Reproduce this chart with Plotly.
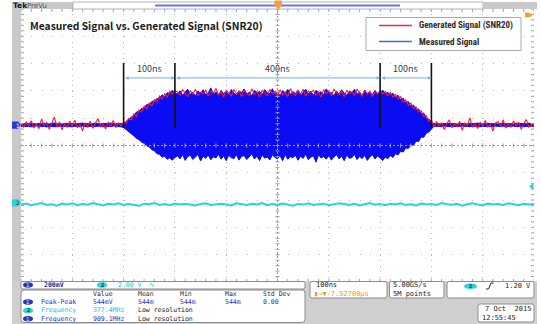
import numpy as np
import plotly.graph_objects as go

# ---------------- acquisition / screen setup ----------------
TIME_DIV_NS = 100          # horizontal scale (ns/div)
CH1_DIV_MV = 200           # channel 1 vertical scale (mV/div)
CH2_DIV_V = 2.0            # channel 2 vertical scale (V/div)
H_DIVS, V_DIVS = 10, 10
CH1_POS_DIV = 0.75         # channel 1 ground, divisions above centre
CH2_POS_DIV = -2.1         # channel 2 ground, divisions below centre
TRIG_LEVEL_V = 1.20
SAMPLE_NS = 5              # spacing of the channel 1 samples below
CH2_SAMPLE_NS = 10         # spacing of the channel 2 samples below
RECORD_START_NS = -500

# ---------------- channel 1 : measured signal envelope (mV) ----------------
measured_upper_mv = (
    # idle, -500 .. -305 ns
    [9, 12, 8, 11, 14, 10, 7, 12, 9, 13, 10, 8, 12, 15, 9, 11, 7, 10, 13, 9,
     12, 8, 11, 10, 14, 9, 12, 7, 11, 13, 10, 8, 12, 9, 11, 14, 10, 8, 12, 10]
    # rising edge, -300 .. -200 ns
    + [8, 28, 41, 60, 72, 95, 101, 121, 126, 150, 149, 172, 176, 193, 198, 222,
       208, 236, 231, 255, 234]
    # plateau, -195 .. 195 ns
    + [228, 251, 219, 244, 262, 225, 238, 214, 249, 232,
       258, 221, 236, 272, 227, 242, 216, 253, 231, 245,
       222, 260, 234, 218, 248, 239, 264, 226, 241, 212,
       255, 233, 247, 220, 259, 237, 229, 266, 224, 243,
       215, 252, 235, 261, 223, 246, 230, 257, 218, 240,
       263, 228, 249, 217, 254, 236, 244, 221, 265, 232,
       239, 213, 250, 227, 258, 234, 219, 247, 238, 262,
       225, 243, 216, 256, 231, 245, 222, 253, 229]
    # falling edge, 200 .. 300 ns
    + [237, 256, 229, 240, 221, 233, 204, 218, 185, 197, 161, 172, 138, 147,
       112, 118, 82, 88, 47, 44, 12]
    # idle, 305 .. 500 ns
    + [11, 9, 13, 8, 12, 10, 14, 9, 11, 7, 12, 10, 13, 8, 11, 9, 12, 14, 10, 8,
       11, 13, 9, 12, 10, 7, 11, 14, 9, 12, 10, 8, 13, 11, 9, 12, 10, 14, 8, 11]
)

measured_lower_mv = (
    [-10, -8, -12, -9, -13, -11, -7, -10, -12, -9, -14, -10, -8, -11, -13, -9,
     -12, -10, -7, -11, -13, -9, -10, -12, -8, -11, -14, -9, -10, -12, -8, -11,
     -13, -10, -9, -12, -7, -11, -10, -13]
    + [-18, -35, -47, -66, -80, -98, -107, -125, -134, -152, -160, -181, -189,
       -210, -214, -236, -229, -251, -240, -258, -238]
    + [-226, -248, -218, -259, -231, -221, -252, -237, -216, -263,
       -229, -244, -219, -255, -233, -241, -214, -250, -227, -261,
       -222, -239, -246, -217, -257, -230, -224, -253, -236, -212,
       -249, -228, -260, -220, -243, -234, -256, -218, -238, -247,
       -225, -262, -216, -251, -232, -240, -221, -258, -229, -245,
       -213, -254, -236, -226, -272, -219, -242, -231, -250, -223,
       -257, -235, -217, -248, -228, -261, -220, -244, -239, -215,
       -253, -230, -246, -222, -259, -233, -218, -249, -227]
    + [-241, -260, -236, -247, -224, -238, -210, -219, -191, -198, -168, -172,
       -142, -150, -118, -121, -88, -90, -60, -52, -30]
    + [-9, -12, -10, -13, -8, -11, -10, -14, -9, -12, -11, -8, -13, -10, -12,
       -9, -7, -11, -13, -10, -12, -9, -11, -14, -8, -10, -12, -9, -13, -11,
       -10, -8, -12, -11, -9, -13, -10, -12, -8, -11]
)

# ---------------- channel 1 : generated signal, SNR 20 dB (mV) ----------------
generated_mv = (
    [12, -18, 25, -9, 31, -22, 8, -27, 44, -6, 19, -31, 14, 58, -12, 22, -35,
     10, -15, 27, -8, 36, -20, 5, -42, 17, -11, 29, -24, 13, 48, -16, 7, -29,
     21, -10, 34, -19, 15, -5]
    + [22, 14, 48, 37, 81, 62, 110, 96, 138, 118, 162, 141, 185, 168, 212, 190,
       229, 204, 247, 226, 250]
    + [244, 218, 259, 231, 207, 252, 226, 263, 213, 240,
       229, 256, 211, 247, 235, 268, 220, 243, 205, 254,
       237, 214, 261, 228, 249, 209, 257, 233, 218, 265,
       225, 246, 206, 253, 239, 216, 260, 230, 248, 212,
       258, 222, 241, 208, 266, 234, 217, 251, 227, 262,
       210, 245, 236, 255, 219, 242, 204, 259, 232, 250,
       215, 264, 238, 223, 248, 207, 256, 229, 244, 217,
       261, 235, 212, 253, 226, 247, 209, 241, 230]
    + [252, 228, 246, 214, 238, 205, 226, 190, 208, 168, 184, 146, 160, 122,
       134, 95, 104, 62, 70, 28, 35]
    + [-14, 26, -7, 18, -33, 11, 39, -21, 6, -12, 28, -38, 15, -4, 52, -17, 9,
       -26, 20, -9, 33, -14, 4, -45, 16, 24, -11, 37, -23, 8, -16, 30, -6, 21,
       -31, 12, 41, -18, 10, -3]
)

# ---------------- channel 2 : trigger source (V) ----------------
ch2_v = [
    -0.12, -0.05, -0.18, -0.08, -0.02, -0.15, -0.10, -0.21, -0.06, -0.13,
    -0.03, -0.17, -0.09, -0.14, -0.01, -0.11, -0.19, -0.07, -0.12, -0.04,
    -0.16, -0.08, -0.13, -0.22, -0.06, -0.10, -0.02, -0.15, -0.09, -0.18,
    -0.05, -0.12, -0.07, -0.14, -0.20, -0.08, -0.03, -0.16, -0.11, -0.06,
    -0.13, -0.19, -0.04, -0.10, -0.15, -0.07, -0.12, -0.01, -0.17, -0.09,
    -0.14, -0.05, -0.11, -0.21, -0.08, -0.13, -0.03, -0.16, -0.10, -0.06,
    -0.18, -0.12, -0.04, -0.09, -0.15, -0.07, -0.20, -0.11, -0.02, -0.14,
    -0.08, -0.17, -0.06, -0.12, -0.03, -0.15, -0.10, -0.19, -0.05, -0.13,
    -0.09, -0.16, -0.02, -0.11, -0.14, -0.07, -0.21, -0.10, -0.04, -0.12,
    -0.18, -0.06, -0.13, -0.08, -0.15, -0.03, -0.11, -0.17, -0.07, -0.12,
    -0.09,
]

# burst boundaries (ns)
marker_times_ns = [-300, -200, 200, 300]

# legend entries
series_names = ["Generated Signal (SNR20)", "Measured Signal"]
series_key_colors = ["#e8313a", "#2e78cc"]

# measurement readout
ch2_frequency = "377.4MHz"
ch1_frequency = "909.1MHz"
timebase_label = "100ns"
trigger_delay = "-7.52700µs"
sample_rate = "5.00GS/s"
record_length = "5M points"
date_label = "7 Oct  2015"
time_label = "12:55:45"

# ---------------- page geometry ----------------
W, H = 541, 324
GX0, GX1, GY0, GY1 = 21, 534, 9, 282     # graticule in page pixels

BLUE = "#0c0cf2"
RED = "#ff1a1a"
CYAN = "#27d3dc"
GRID = "#b9b9b9"
TICK = "#a4a4a4"
UI_FONT = "DejaVu Sans Mono"
LABEL_FONT = "Noto Sans CJK KR"
LEGEND_FONT = "Liberation Sans Narrow, Arial Narrow, Roboto Condensed, Noto Sans CJK KR"

t_ns = RECORD_START_NS + SAMPLE_NS * np.arange(len(measured_upper_mv))
t2_ns = RECORD_START_NS + CH2_SAMPLE_NS * np.arange(len(ch2_v))

x_half = H_DIVS / 2 * TIME_DIV_NS
ch1_range = [(-V_DIVS / 2 - CH1_POS_DIV) * CH1_DIV_MV, (V_DIVS / 2 - CH1_POS_DIV) * CH1_DIV_MV]
ch2_range = [(-V_DIVS / 2 - CH2_POS_DIV) * CH2_DIV_V, (V_DIVS / 2 - CH2_POS_DIV) * CH2_DIV_V]
centre_mv = -CH1_POS_DIV * CH1_DIV_MV
mv_per_px = (ch1_range[1] - ch1_range[0]) / (GY1 - GY0)
ns_per_px = 2 * x_half / (GX1 - GX0)
v_per_px = (ch2_range[1] - ch2_range[0]) / (GY1 - GY0)


def PX(x):
    return (x - GX0) / (GX1 - GX0)


def PY(y):
    return (GY1 - y) / (GY1 - GY0)


fig = go.Figure()

# measured signal: dense carrier drawn as its filled envelope
fig.add_trace(go.Scatter(
    x=np.concatenate([t_ns, t_ns[::-1]]),
    y=np.concatenate([measured_upper_mv, measured_lower_mv[::-1]]),
    fill="toself", fillcolor=BLUE, mode="lines", name=series_names[1],
    line=dict(color=BLUE, width=1), showlegend=False, hoverinfo="skip"))

# generated signal
fig.add_trace(go.Scatter(
    x=t_ns, y=generated_mv, mode="lines", name=series_names[0],
    line=dict(color=RED, width=1.1), showlegend=False, hoverinfo="skip"))

# burst boundary markers
MARK_TOP_MV, MARK_BOTTOM_MV = 455, -18
mx, my = [], []
for tm in marker_times_ns:
    mx += [tm, tm, None]
    my += [MARK_BOTTOM_MV, MARK_TOP_MV, None]
fig.add_trace(go.Scatter(x=mx, y=my, mode="lines",
                         line=dict(color="#111111", width=1.6),
                         showlegend=False, hoverinfo="skip"))

# channel 2 trace
fig.add_trace(go.Scatter(
    x=t2_ns, y=ch2_v, yaxis="y2", mode="lines",
    line=dict(color=CYAN, width=2), showlegend=False, hoverinfo="skip"))

# channel 2 trigger level indicator at the right edge
fig.add_trace(go.Scatter(
    x=[x_half - 2 * ns_per_px], y=[TRIG_LEVEL_V], yaxis="y2", mode="markers",
    marker=dict(symbol="triangle-left", size=6, color=CYAN),
    cliponaxis=False, showlegend=False, hoverinfo="skip"))

shapes = []
ann = []


def rect(x0, y0, x1, y1, fill, line=None, lw=0):
    shapes.append(dict(type="rect", xref="paper", yref="paper",
                       x0=PX(x0), x1=PX(x1), y0=PY(y1), y1=PY(y0),
                       fillcolor=fill, line=dict(color=line or fill, width=lw)))


def rrect(x0, y0, x1, y1, r, fill="white", line="#8c8c8c"):
    p = (f"M{PX(x0 + r)},{PY(y0)} L{PX(x1 - r)},{PY(y0)} "
         f"Q{PX(x1)},{PY(y0)} {PX(x1)},{PY(y0 + r)} L{PX(x1)},{PY(y1 - r)} "
         f"Q{PX(x1)},{PY(y1)} {PX(x1 - r)},{PY(y1)} L{PX(x0 + r)},{PY(y1)} "
         f"Q{PX(x0)},{PY(y1)} {PX(x0)},{PY(y1 - r)} L{PX(x0)},{PY(y0 + r)} "
         f"Q{PX(x0)},{PY(y0)} {PX(x0 + r)},{PY(y0)} Z")
    shapes.append(dict(type="path", xref="paper", yref="paper", path=p,
                       fillcolor=fill, line=dict(color=line, width=1)))


def label(x, y, text, color="#222222", size=6.5, anchor="left",
          family=UI_FONT, bold=False):
    ann.append(dict(x=PX(x), y=PY(y), xref="paper", yref="paper", text=text,
                    showarrow=False, xanchor=anchor, yanchor="middle",
                    borderpad=0,
                    font=dict(family=family, size=size, color=color,
                              weight="bold" if bold else "normal")))


def pill(x0, y0, x1, y1, fill, digit, dcolor):
    shapes.append(dict(type="circle", xref="paper", yref="paper",
                       x0=PX(x0), x1=PX(x1), y0=PY(y1), y1=PY(y0),
                       fillcolor=fill, line=dict(color=fill, width=0)))
    label((x0 + x1) / 2, (y0 + y1) / 2, digit, dcolor, 5.5, "center", bold=True)


# ---- graticule: centre cross, edges and sub-division ticks ----
tick_mv = 2 * mv_per_px
tick_ns = 2 * ns_per_px
edge_mv = 3 * mv_per_px
edge_ns = 3 * ns_per_px
shapes.append(dict(type="line", xref="x", yref="y", x0=-x_half, x1=x_half,
                   y0=centre_mv, y1=centre_mv,
                   line=dict(color="#9a9a9a", width=1, dash="2px,2px")))
shapes.append(dict(type="line", xref="x", yref="y", x0=0, x1=0,
                   y0=ch1_range[0], y1=ch1_range[1],
                   line=dict(color="#9a9a9a", width=1, dash="2px,2px")))
for xe in (-x_half, x_half):
    shapes.append(dict(type="line", xref="x", yref="y", x0=xe, x1=xe,
                       y0=ch1_range[0], y1=ch1_range[1],
                       line=dict(color=GRID, width=1, dash="1px,4.46px")))
for ye in ch1_range:
    shapes.append(dict(type="line", xref="x", yref="y", x0=-x_half, x1=x_half,
                       y0=ye, y1=ye,
                       line=dict(color=GRID, width=1, dash="1px,9.26px")))
sub_x = np.arange(-x_half, x_half + 1e-6, TIME_DIV_NS / 5)
sub_y = np.arange(ch1_range[0], ch1_range[1] + 1e-6, CH1_DIV_MV / 5)
for xv in sub_x:
    shapes.append(dict(type="line", xref="x", yref="y", x0=xv, x1=xv,
                       y0=centre_mv - tick_mv, y1=centre_mv + tick_mv,
                       line=dict(color=TICK, width=1)))
    shapes.append(dict(type="line", xref="x", yref="y", x0=xv, x1=xv,
                       y0=ch1_range[1], y1=ch1_range[1] - edge_mv,
                       line=dict(color=TICK, width=1)))
    shapes.append(dict(type="line", xref="x", yref="y", x0=xv, x1=xv,
                       y0=ch1_range[0], y1=ch1_range[0] + edge_mv,
                       line=dict(color=TICK, width=1)))
for yv in sub_y:
    shapes.append(dict(type="line", xref="x", yref="y", x0=-tick_ns, x1=tick_ns,
                       y0=yv, y1=yv, line=dict(color=TICK, width=1)))
    shapes.append(dict(type="line", xref="x", yref="y", x0=-x_half,
                       x1=-x_half + edge_ns, y0=yv, y1=yv,
                       line=dict(color=TICK, width=1)))
    shapes.append(dict(type="line", xref="x", yref="y", x0=x_half,
                       x1=x_half - edge_ns, y0=yv, y1=yv,
                       line=dict(color=TICK, width=1)))

# ---- instrument frame ----
rect(12, 2, 21, 282, "#c9c9c9")
rect(12, 2, 73, 9, "#c9c9c9")
rect(73, 2, 483, 9, "white", "#b4b4b4", 1)
shapes.append(dict(type="line", xref="paper", yref="paper", x0=PX(155), x1=PX(400),
                   y0=PY(5.5), y1=PY(5.5), line=dict(color="#7272e6", width=2)))
rect(483, 2, 537, 9, "#c9c9c9")
rect(12, 281, 537, 324, "#cfcfcf")
# trigger position flag
shapes.append(dict(type="path", xref="paper", yref="paper",
                   path=f"M{PX(274.5)},{PY(0.5)} L{PX(282)},{PY(0.5)} L{PX(282)},{PY(5)} "
                        f"L{PX(279)},{PY(9)} L{PX(277.5)},{PY(9)} L{PX(274.5)},{PY(5)} Z",
                   fillcolor="#f2a03a", line=dict(color="#f2a03a", width=0)))
# off-screen indicator, top right
shapes.append(dict(type="path", xref="paper", yref="paper",
                   path=f"M{PX(525)},{PY(12.5)} L{PX(529)},{PY(12.5)} L{PX(533)},{PY(15)} "
                        f"L{PX(529)},{PY(17.5)} L{PX(525)},{PY(17.5)} Z",
                   fillcolor="#f2a03a", line=dict(color="#f2a03a", width=0)))

# channel ground markers on the left edge
g1 = 3.6 * mv_per_px
shapes.append(dict(type="path", xref="paper", yref="y",
                   path=f"M{PX(12)},{g1} L{PX(18)},{g1} L{PX(21)},0 "
                        f"L{PX(18)},{-g1} L{PX(12)},{-g1} Z",
                   fillcolor="#2b3bd6", line=dict(color="#2b3bd6", width=0)))
ann.append(dict(x=PX(15), y=0, xref="paper", yref="y", text="1", showarrow=False,
                font=dict(family="DejaVu Sans", size=6, color="white"), borderpad=0))
g2 = 3.6 * v_per_px
shapes.append(dict(type="path", xref="paper", yref="y2",
                   path=f"M{PX(12)},{g2} L{PX(18)},{g2} L{PX(21)},0 "
                        f"L{PX(18)},{-g2} L{PX(12)},{-g2} Z",
                   fillcolor=CYAN, line=dict(color=CYAN, width=0)))
ann.append(dict(x=PX(15), y=0, xref="paper", yref="y2", text="2", showarrow=False,
                font=dict(family="DejaVu Sans", size=6, color="#1b4a55"), borderpad=0))

# ---- title and header text ----
label(12, 5.5, "Tek", "#111111", 7.5, family="DejaVu Sans", bold=True)
label(26, 5.5, "PreVu", "#555555", 7, family="DejaVu Sans")
label(29, 25, "Measured Signal vs. Generated Signal (SNR20)", "#1a1a1a", 10.3,
      family=LABEL_FONT, bold=True)

# ---- legend ----
rect(366, 17.5, 521, 50.5, "white", "#a3abbd", 1)
for i, (name, col) in enumerate(zip(series_names, series_key_colors)):
    ly = 25.5 + 16 * i
    shapes.append(dict(type="line", xref="paper", yref="paper",
                       x0=PX(379), x1=PX(412), y0=PY(ly), y1=PY(ly),
                       line=dict(color=col, width=1.5)))
    label(418, ly, name, "#2e2e2e", 9, family=LEGEND_FONT, bold=True)

# ---- burst span annotations ----
ARROW_MV, SPAN_LABEL_MV = 345, 412
for a, b in zip(marker_times_ns[:-1], marker_times_ns[1:]):
    ann.append(dict(x=b, y=ARROW_MV, ax=a, ay=ARROW_MV, xref="x", yref="y",
                    axref="x", ayref="y", text="", showarrow=True,
                    arrowhead=2, startarrowhead=2, arrowside="end+start",
                    arrowsize=0.7, startarrowsize=0.7, arrowwidth=1,
                    arrowcolor="#78aee0"))
    ann.append(dict(x=(a + b) / 2, y=SPAN_LABEL_MV, xref="x", yref="y",
                    text=f"{b - a:.0f}ns", showarrow=False,
                    font=dict(family=LABEL_FONT, size=9, color="#3c3c3c")))

# ---- bottom status panel ----
C1TXT, C2TXT = "#2233bb", "#22c2cc"
C1PILL, C1DIG = "#2a38b0", "#aab8ff"
C2DIG = "#17404a"
rrect(21, 281.5, 305, 289, 2)
pill(23, 282.3, 33, 287.7, C1PILL, "1", C1DIG)
label(43, 285, f"{CH1_DIV_MV:.0f}mV", "#1e2a98", 6.5, bold=True)
pill(97, 282.3, 107, 287.7, CYAN, "2", C2DIG)
label(117, 285, f"{CH2_DIV_V:.2f} V", C2TXT, 6.5)
label(148, 285, "∿", C2TXT, 6.5)

rrect(21, 290, 305, 322.5, 3)
peak_to_peak = max(measured_upper_mv) - min(measured_lower_mv)
cols = [92, 137, 179, 224, 262]
ROW_Y = [293.6, 302.0, 310.4, 318.8]
for cx, txt in zip(cols, ["Value", "Mean", "Min", "Max", "Std Dev"]):
    label(cx, ROW_Y[0], txt, "#2a2a2a")
rows = [
    (ROW_Y[1], C1PILL, "1", C1DIG, "Peak-Peak", C1TXT,
     [f"{peak_to_peak:.0f}mV", f"{peak_to_peak:.0f}m", f"{peak_to_peak:.0f}m",
      f"{peak_to_peak:.0f}m", "0.00"], [C1TXT] * 5),
    (ROW_Y[2], CYAN, "2", C2DIG, "Frequency", C2TXT,
     [ch2_frequency, "Low resolution"], [C2TXT, "#1a1a1a"]),
    (ROW_Y[3], C1PILL, "1", C1DIG, "Frequency", C1TXT,
     [ch1_frequency, "Low resolution"], [C1TXT, "#1a1a1a"]),
]
for ry, pf, dg, dc, name, nc, vals, vcols in rows:
    pill(23, ry - 2.7, 33, ry + 2.7, pf, dg, dc)
    label(40, ry, name, nc)
    for cx, v, vc in zip(cols, vals, vcols):
        label(cx, ry, v, vc)

rrect(310, 281.5, 387, 298, 2)
label(315, 285, timebase_label, "#222222", 7)
label(313, 294, "▮→▼" + trigger_delay, "#f0942a", 7)
rrect(389.5, 281.5, 444, 298, 2)
label(392, 285, sample_rate, "#222222", 7)
label(392, 294, record_length, "#222222", 7)
rrect(447, 281.5, 534, 298, 2)
pill(464, 283.5, 477, 289, CYAN, "2", C2DIG)
shapes.append(dict(type="path", xref="paper", yref="paper",
                   path=f"M{PX(486)},{PY(289)} L{PX(488.5)},{PY(289)} L{PX(491)},{PY(283)} "
                        f"L{PX(493.5)},{PY(283)}",
                   line=dict(color="#222222", width=1)))
label(532, 286, f"{TRIG_LEVEL_V:.2f} V", "#222222", 7, "right")
rrect(478, 304, 534, 322, 2)
label(532, 308.5, date_label, "#222222", 7, "right")
label(481, 317.5, time_label, "#222222", 7)

fig.update_layout(
    width=W, height=H, autosize=False,
    margin=dict(l=GX0, r=W - GX1, t=GY0, b=H - GY1, pad=0),
    paper_bgcolor="white", plot_bgcolor="white",
    showlegend=False,
    xaxis=dict(range=[-x_half, x_half], dtick=TIME_DIV_NS, tick0=0,
               showgrid=True, gridcolor=GRID, gridwidth=1, griddash="1px,4.46px",
               zeroline=False, showticklabels=False, ticks="", showline=False,
               fixedrange=True),
    yaxis=dict(range=ch1_range, dtick=CH1_DIV_MV, tick0=centre_mv,
               showgrid=True, gridcolor=GRID, gridwidth=1, griddash="1px,9.26px",
               zeroline=False, showticklabels=False, ticks="", showline=False,
               fixedrange=True),
    yaxis2=dict(range=ch2_range, overlaying="y", visible=False, fixedrange=True),
    shapes=shapes, annotations=ann, hovermode=False,
)

fig.write_html("out.html")
